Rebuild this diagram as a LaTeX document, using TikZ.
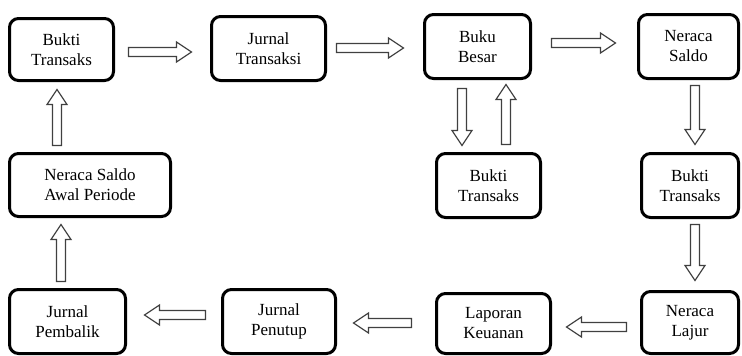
\documentclass[tikz,border=0pt]{standalone}
\usepackage{fontspec}
\setmainfont{Liberation Serif}
\usetikzlibrary{calc}

% hollow block-arrow geometry
\newcommand\arrShaft{4.5pt}
\newcommand\arrHeadW{10pt}
\newcommand\arrHeadL{15pt}

\tikzset{
  stepbox/.style={draw=black, line width=3pt, rounded corners=9pt, fill=white,
    align=center, inner sep=0pt, font=\fontsize{17}{20}\selectfont},
  blockarrow/.style={draw=black!75, line width=1.2pt, fill=white, line join=miter,
    to path={
      ($(\tikztostart)!\arrShaft!90:(\tikztotarget)$)
      -- ($($(\tikztotarget)!\arrHeadL!(\tikztostart)$)!\arrShaft!-90:(\tikztostart)$)
      -- ($($(\tikztotarget)!\arrHeadL!(\tikztostart)$)!\arrHeadW!-90:(\tikztostart)$)
      -- (\tikztotarget)
      -- ($($(\tikztotarget)!\arrHeadL!(\tikztostart)$)!\arrHeadW!90:(\tikztostart)$)
      -- ($($(\tikztotarget)!\arrHeadL!(\tikztostart)$)!\arrShaft!90:(\tikztostart)$)
      -- ($(\tikztostart)!\arrShaft!-90:(\tikztotarget)$)
      -- cycle}}
}

\begin{document}
\begin{tikzpicture}[x=1pt, y=-1pt]
\useasboundingbox[fill=white] (0,0) rectangle (742,356);

% process steps
\node[stepbox, minimum width=104pt, minimum height=62pt] (b1)  at (61.5,49.5)  {Bukti\\Transaks};
\node[stepbox, minimum width=114pt, minimum height=64pt] (j1)  at (268.5,48.5) {Jurnal\\Transaksi};
\node[stepbox, minimum width=106pt, minimum height=64pt] (bb)  at (477.5,46.5) {Buku\\Besar};
\node[stepbox, minimum width=100pt, minimum height=64pt] (ns)  at (688.5,46.5) {Neraca\\Saldo};
\node[stepbox, minimum width=104pt, minimum height=64pt] (btm) at (488.5,185.5) {Bukti\\Transaks};
\node[stepbox, minimum width=97pt,  minimum height=64pt] (btr) at (690,185.5)  {Bukti\\Transaks};
\node[stepbox, minimum width=161pt, minimum height=63pt] (nsa) at (90,185)     {Neraca Saldo\\Awal Periode};
\node[stepbox, minimum width=116pt, minimum height=64pt] (jpb) at (67.5,321.5) {Jurnal\\Pembalik};
\node[stepbox, minimum width=113pt, minimum height=64pt] (jp)  at (279,321.5)  {Jurnal\\Penutup};
\node[stepbox, minimum width=114pt, minimum height=60pt] (lk)  at (493.5,323.5) {Laporan\\Keuanan};
\node[stepbox, minimum width=97pt,  minimum height=62pt] (nl)  at (690,322.5)  {Neraca\\Lajur};

% arrow end points, placed beside the boxes they join
\coordinate (a1s)  at ($(b1.east)+(13.5,2.5)$);
\coordinate (a1e)  at ($(j1.west)+(-18.5,3.5)$);
\coordinate (a2s)  at ($(j1.east)+(9.5,-0.5)$);
\coordinate (a2e)  at ($(bb.west)+(-19.5,1.5)$);
\coordinate (a3s)  at ($(bb.east)+(19.5,-3.5)$);
\coordinate (a3e)  at ($(ns.west)+(-21.5,-3.5)$);
\coordinate (a4s)  at ($(ns.south)+(6.5,5.5)$);
\coordinate (a4e)  at ($(btr.north)+(5,-7.5)$);
\coordinate (a5s)  at ($(bb.south)+(-15.5,8.5)$);
\coordinate (a5e)  at ($(btm.north)+(-26.5,-6.5)$);
\coordinate (a6s)  at ($(btm.north)+(17.5,-7.5)$);
\coordinate (a6e)  at ($(bb.south)+(28.5,4.5)$);
\coordinate (a7s)  at ($(btr.south)+(5,5.5)$);
\coordinate (a7e)  at ($(nl.north)+(5,-9.5)$);
\coordinate (a8s)  at ($(nl.west)+(-13.5,4.5)$);
\coordinate (a8e)  at ($(lk.east)+(14.5,3.5)$);
\coordinate (a9s)  at ($(lk.west)+(-23.5,-0.5)$);
\coordinate (a9e)  at ($(jp.east)+(16.5,1.5)$);
\coordinate (a10s) at ($(jp.west)+(-15.5,-6.5)$);
\coordinate (a10e) at ($(jpb.east)+(17.5,-6.5)$);
\coordinate (a11s) at ($(jpb.north)+(-6.5,-6.5)$);
\coordinate (a11e) at ($(nsa.south)+(-29,6.5)$);
\coordinate (a12s) at ($(nsa.north)+(-33,-6.5)$);
\coordinate (a12e) at ($(b1.south)+(-4.5,7.5)$);

% flow of the cycle
\draw[blockarrow] (a1s) to (a1e);
\draw[blockarrow] (a2s) to (a2e);
\draw[blockarrow] (a3s) to (a3e);
\draw[blockarrow] (a4s) to (a4e);
\draw[blockarrow] (a5s) to (a5e);
\draw[blockarrow] (a6s) to (a6e);
\draw[blockarrow] (a7s) to (a7e);
\draw[blockarrow] (a8s) to (a8e);
\draw[blockarrow] (a9s) to (a9e);
\draw[blockarrow] (a10s) to (a10e);
\draw[blockarrow] (a11s) to (a11e);
\draw[blockarrow] (a12s) to (a12e);
\end{tikzpicture}
\end{document}
